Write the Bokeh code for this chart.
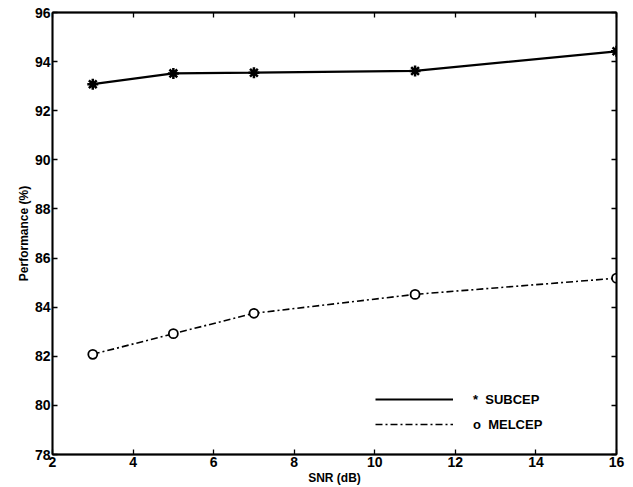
from bokeh.plotting import figure
from bokeh.models import Range1d, FixedTicker, LinearAxis, Legend, LegendItem
from bokeh.embed import file_html
from bokeh.resources import INLINE

snr = [3, 5, 7, 11, 16]
subcep = [93.08, 93.52, 93.55, 93.62, 94.42]
melcep = [82.08, 82.92, 83.75, 84.52, 85.18]
x_ticks = [2, 4, 6, 8, 10, 12, 14, 16]
y_ticks = [78, 80, 82, 84, 86, 88, 90, 92, 94, 96]

FONT = "Liberation Sans"

p = figure(frame_width=564, frame_height=442, output_backend="svg", toolbar_location=None,
           x_range=Range1d(2, 16), y_range=Range1d(78, 96),
           min_border_left=52, min_border_right=9, min_border_top=12, min_border_bottom=25)
p.grid.visible = False
p.outline_line_color = "black"
p.outline_line_width = 1.5
p.background_fill_color = "white"

for ax, ticks in ((p.xaxis[0], x_ticks), (p.yaxis[0], y_ticks)):
    ax.ticker = FixedTicker(ticks=ticks)
    ax.major_tick_in = 5
    ax.major_tick_out = 0
    ax.minor_tick_line_color = None
    ax.axis_line_color = "black"
    ax.axis_line_width = 1.8
    ax.major_tick_line_color = "black"
    ax.major_tick_line_width = 1.3
    ax.major_label_text_font = FONT
    ax.major_label_text_font_style = "bold"
    ax.major_label_text_font_size = "14px"
    ax.major_label_text_color = "black"
    ax.axis_label_text_font = FONT
    ax.axis_label_text_font_style = "bold"
    ax.axis_label_text_font_size = "12px"
    ax.axis_label_text_color = "black"
    ax.major_label_standoff = 2
    ax.axis_label_standoff = 1

p.xaxis.axis_label = "SNR (dB)"
p.yaxis.axis_label = "Performance (%)"

top = LinearAxis(ticker=FixedTicker(ticks=x_ticks), major_tick_in=5, major_tick_out=0,
                 minor_tick_line_color=None, major_label_text_font_size="0px",
                 axis_line_width=1.8, major_tick_line_width=1.3, major_label_standoff=0)
right = LinearAxis(ticker=FixedTicker(ticks=y_ticks), major_tick_in=5, major_tick_out=0,
                   minor_tick_line_color=None, major_label_text_font_size="0px",
                   axis_line_width=1.8, major_tick_line_width=1.3, major_label_standoff=0)
top.major_label_overrides = {t: "" for t in x_ticks}
right.major_label_overrides = {t: "" for t in y_ticks}
p.add_layout(top, "above")
p.add_layout(right, "right")

l1 = p.line(snr, subcep, line_color="black", line_width=2.2)
p.scatter(snr, subcep, marker="asterisk", size=11, line_color="black", line_width=2.5)
l2 = p.line(snr, melcep, line_color="black", line_width=1.6, line_dash="7 3 2 3")
p.scatter(snr, melcep, marker="circle", size=9, line_color="black", fill_color="white", line_width=1.8)

legend = Legend(items=[LegendItem(label="*  SUBCEP", renderers=[l1]),
                       LegendItem(label="o  MELCEP", renderers=[l2])],
                location=(323, 20), padding=0, margin=0, spacing=5,
                glyph_width=78, glyph_height=20, label_height=20, label_standoff=20,
                border_line_color=None, background_fill_alpha=0,
                label_text_font=FONT, label_text_font_style="bold",
                label_text_font_size="13px", label_text_color="black")
p.add_layout(legend, "center")

open("out.html", "w").write(file_html(p, INLINE))
